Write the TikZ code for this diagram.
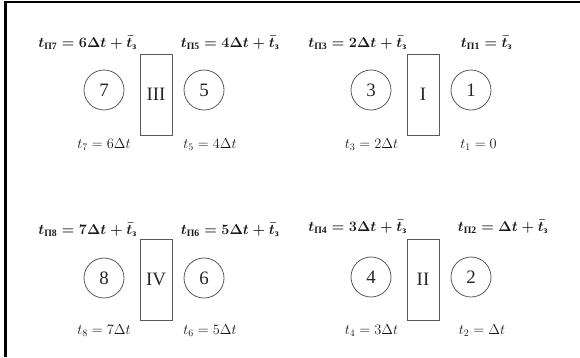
\documentclass[tikz,border=0pt]{standalone}
\usepackage{amsmath}
\usepackage{fontspec}
\setmainfont{Liberation Serif}
\begin{document}
\begin{tikzpicture}[x=1bp,y=-1bp,
  unit/.style={circle,draw=black!65,line width=0.8bp,minimum size=40bp,inner sep=0pt,
    text=black!85,font=\fontsize{19}{19}\selectfont},
  sect/.style={rectangle,draw=black!65,line width=0.8bp,minimum width=32bp,minimum height=81bp,
    inner sep=0pt,text=black!85,font=\fontsize{19}{19}\selectfont},
  toplab/.style={inner sep=0pt,text=black!90,font=\fontsize{14}{16}\selectfont\bfseries\boldmath},
  botlab/.style={inner sep=0pt,text=black!90,font=\fontsize{14.5}{16}\selectfont}]
\useasboundingbox (0,0) rectangle (580,357);
\draw[line width=2.4bp] (5.3,357) -- (5.3,2) -- (580,2);

% row 1
\node[toplab] (p7) at (87.5,43) {$t_{\text{П7}} = 6\Delta t + \bar{t}_{\text{з}}$};
\node[toplab] (p5) at (230,43) {$t_{\text{П5}} = 4\Delta t + \bar{t}_{\text{з}}$};
\node[toplab] (p3) at (357.5,43) {$t_{\text{П3}} = 2\Delta t + \bar{t}_{\text{з}}$};
\node[toplab] (p1) at (486.5,43) {$t_{\text{П1}} = \bar{t}_{\text{з}}$};
\node[unit] (c7) at (104,90) {7};
\node[sect] (s3) at (156,94.5) {III};
\node[unit] (c5) at (204,90) {5};
\node[unit] (c3) at (371,90) {3};
\node[sect] (s1) at (423,94.5) {I};
\node[unit] (c1) at (471,90) {1};
\node[botlab] (b7) at (104,145) {$t_7 = 6\Delta t$};
\node[botlab] (b5) at (210,145) {$t_5 = 4\Delta t$};
\node[botlab] (b3) at (371.5,145) {$t_3 = 2\Delta t$};
\node[botlab] (b1) at (478.5,145) {$t_1 = 0$};

% row 2
\node[toplab] (p8) at (87.5,230) {$t_{\text{П8}} = 7\Delta t + \bar{t}_{\text{з}}$};
\node[toplab] (p6) at (230,230) {$t_{\text{П6}} = 5\Delta t + \bar{t}_{\text{з}}$};
\node[toplab] (p4) at (357.5,227) {$t_{\text{П4}} = 3\Delta t + \bar{t}_{\text{з}}$};
\node[toplab] (p2) at (503,227) {$t_{\text{П2}} = \Delta t + \bar{t}_{\text{з}}$};
\node[unit] (c8) at (104,278) {8};
\node[sect] (s4) at (156,279.5) {IV};
\node[unit] (c6) at (204,278) {6};
\node[unit] (c4) at (371,277) {4};
\node[sect] (s2) at (423,279.5) {II};
\node[unit] (c2) at (471,277) {2};
\node[botlab] (b8) at (104,331) {$t_8 = 7\Delta t$};
\node[botlab] (b6) at (210,331) {$t_6 = 5\Delta t$};
\node[botlab] (b4) at (371.5,331) {$t_4 = 3\Delta t$};
\node[botlab] (b2) at (482,331) {$t_2 = \Delta t$};
\end{tikzpicture}
\end{document}
